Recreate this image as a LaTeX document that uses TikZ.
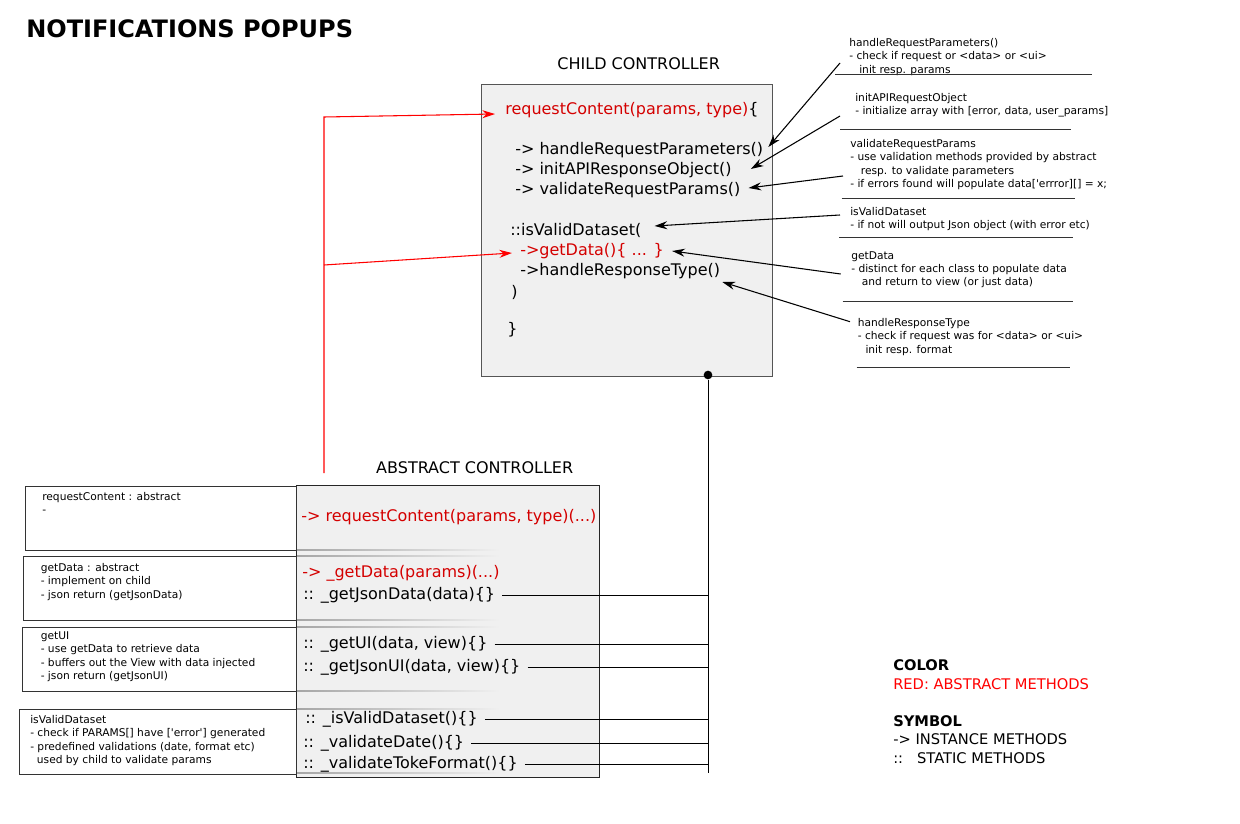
\documentclass[tikz,border=0pt]{standalone}
\usepackage{fontspec}
\setmainfont{DejaVu Sans}[Ligatures=TeXOff]
\usetikzlibrary{positioning, arrows.meta, calc}
\definecolor{boxfill}{HTML}{F0F0F0}
\definecolor{absred}{HTML}{D40000}
\definecolor{edgegray}{HTML}{555555}
\tikzset{class box/.style={draw=edgegray, fill=boxfill, line width=1.1pt, anchor=north west, inner sep=0pt},
	code/.style={anchor=west, inner sep=0pt, font=\fontsize{12}{14}\selectfont},
	red code/.style={code, text=absred},
	box title/.style={inner sep=0pt, font=\fontsize{12}{14}\selectfont},
	note/.style={anchor=north west, inner sep=0pt, align=left, font=\fontsize{8}{10}\selectfont},
	note box/.style={draw=black!80, line width=0.75pt},
	pointer/.style={-{Stealth[length=9.5pt, width=6pt]}, line width=0.8pt},
	red pointer/.style={-{Stealth[length=9.5pt, width=6pt]}, red, line width=0.8pt},
	legend/.style={anchor=north west, inner sep=0pt, align=left, font=\fontsize{11}{14}\selectfont},}

\begin{document}
\begin{tikzpicture}[x=0.75pt, y=-0.75pt]
	\useasboundingbox (0,0) rectangle (1240,824);
	% Title
	\node[anchor=west, inner sep=0pt, font=\fontsize{18}{20}\selectfont\bfseries] (title) at (26,29) {NOTIFICATIONS POPUPS};
	% Controllers
	\node[class box, minimum width=218.25pt, minimum height=219pt] (child) at (481,84) {};
	\node[box title] [above=10.5pt of child, xshift=8.6pt] (childtitle) {CHILD CONTROLLER};
	\node[class box, draw=black!85, line width=0.8pt, minimum width=227.25pt, minimum height=219pt] (parent) at (296,485) {};
	\node[box title] [above=8.4pt of parent, xshift=20pt] (parenttitle) {ABSTRACT CONTROLLER};
	\foreach \y in {550,556,620,627,691,709,773}
		\shade[left color=gray!70, right color=boxfill] (297,\y-0.8) rectangle (500,\y+0.8);
	% Notes on the left
	\draw[note box] (25,486) rectangle (296,550);
	\draw[note box] (23,556) rectangle (296,620);
	\draw[note box] (22,627) rectangle (296,691);
	\draw[note box] (19,709) rectangle (296,774);
	\node[note] (nrc) at (42,492) {requestContent : abstract\\-};
	\node[note] (ngetdata) at (40.5,563) {getData : abstract\\- implement on child\\- json return (getJsonData)};
	\node[note] (ngetui) at (40.5,631.5) {getUI\\- use getData to retrieve data\\- buffers out the View with data injected\\- json return (getJsonUI)};
	\node[note] (nvalid) at (30,715) {isValidDataset\\- check if PARAMS[] have ['error'] generated\\- predefined validations (date, format etc)\\\hspace*{5pt}used by child to validate params};
	% Child methods
	\node[red code] (rc) at (505,110) {requestContent(params, type)\textcolor{black}{\{}};
	\node[code] (hrp) at (515,150) {-> handleRequestParameters()};
	\node[code] (iro) at (515,170) {-> initAPIResponseObject()};
	\node[code] (vrp) at (515,190) {-> validateRequestParams()};
	\node[code] (ivd) at (510,230) {::isValidDataset(};
	\node[red code] (gd) at (520,251) {->getData()\{ ... \}};
	\node[code] (hrt) at (520,271) {->handleResponseType()};
	\node[code] (cclose) at (511,292) {)};
	\node[code] (cend) at (507,330) {\}};
	% Abstract methods
	\node[red code] (arc) at (301,517) {-> requestContent(params, type)(...)};
	\node[red code] (agd) at (302,573) {-> \_getData(params)(...)};
	\node[code] (ajd) at (303,595) {:: \_getJsonData(data)\{\}};
	\node[code] (aui) at (303,644) {:: \_getUI(data, view)\{\}};
	\node[code] (ajui) at (303,667) {:: \_getJsonUI(data, view)\{\}};
	\node[code] (aivd) at (305,719) {:: \_isValidDataset()\{\}};
	\node[code] (avd) at (303,743) {:: \_validateDate()\{\}};
	\node[code] (avtf) at (303,764) {:: \_validateTokeFormat()\{\}};
	% Notes on the right
	\node[note] (nhrp) at (849,38) {handleRequestParameters()\\- check if request or <data> or <ui>\\\hspace*{7.5pt}init resp. params};
	\node[note] (niro) at (855,93) {initAPIRequestObject\\- initialize array with [error, data, user\_params]};
	\node[note] (nvrp) at (850,139) {validateRequestParams\\- use validation methods provided by abstract\\\hspace*{8pt}resp. to validate parameters\\- if errors found will populate data['errror][] = x;};
	\node[note] (nivd) at (850,207) {isValidDataset\\- if not will output Json object (with error etc)};
	\node[note] (ngd) at (851,251) {getData\\- distinct for each class to populate data\\\hspace*{8pt}and return to view (or just data)};
	\node[note] (nhrt) at (857.5,318) {handleResponseType\\- check if request was for <data> or <ui>\\\hspace*{5.8pt}init resp. format};
	\foreach \ya/\xa/\xb in {74.3/835/1091.7, 129.3/840/1070.7, 198.3/841.7/1075, 237.3/839.3/1073, 301.7/842.7/1072.7, 367.3/856.7/1070}
		\draw[black!80, line width=0.9pt] (\xa,\ya) -- (\xb,\ya);
	% Legend
	\node[legend] (lgcolor) at (893,659.6) {\textbf{COLOR}\\\textcolor{red}{RED: ABSTRACT METHODS}};
	\node[legend] [below=18.9pt of lgcolor.south west, anchor=north west] (lgsymbol) {\textbf{SYMBOL}\\-> INSTANCE METHODS\\::\hspace{10.5pt}STATIC METHODS};
	% Paths
	\coordinate (p1) at (840,63);
	\coordinate (p2) at (840,116);
	\coordinate (p3) at (843,176);
	\coordinate (p4) at (840,215);
	\coordinate (p5) at (840.7,274);
	\coordinate (p6) at (850,321.7);
	\draw[pointer] (p1) -- ($(hrp.east)+(5,-3)$);
	\draw[pointer] (p2) -- ($(iro.east)+(19,-1)$);
	\draw[pointer] (p3) -- ($(vrp.east)+(8,-2)$);
	\draw[pointer] (p4) -- ($(ivd.east)+(13,-4)$);
	\draw[pointer] (p5) -- ($(gd.east)+(8,0)$);
	\draw[pointer] (p6) -- ($(hrt.east)+(2,11)$);
	\coordinate (src) at (324,473);
	\coordinate (bend) at (324,117);
	\coordinate (fork) at (324,265);
	\draw[red pointer] (src) -- (bend) -- ($(rc.west)+(-10,4)$);
	\draw[red pointer] (fork) -- ($(gd.west)+(-8,2)$);
	\node[circle, fill, inner sep=0pt, minimum size=6.5pt] (dot) at (708,375) {};
	\coordinate (bus) at (706,773);
	\draw[line width=0.75pt] (dot) -- (dot |- bus);
	\foreach \m in {ajd, aui, ajui, aivd, avd, avtf}
		\draw[line width=0.75pt] ($(\m.east)+(7,0)$) -- (\m.east -| dot);
\end{tikzpicture}
\end{document}
